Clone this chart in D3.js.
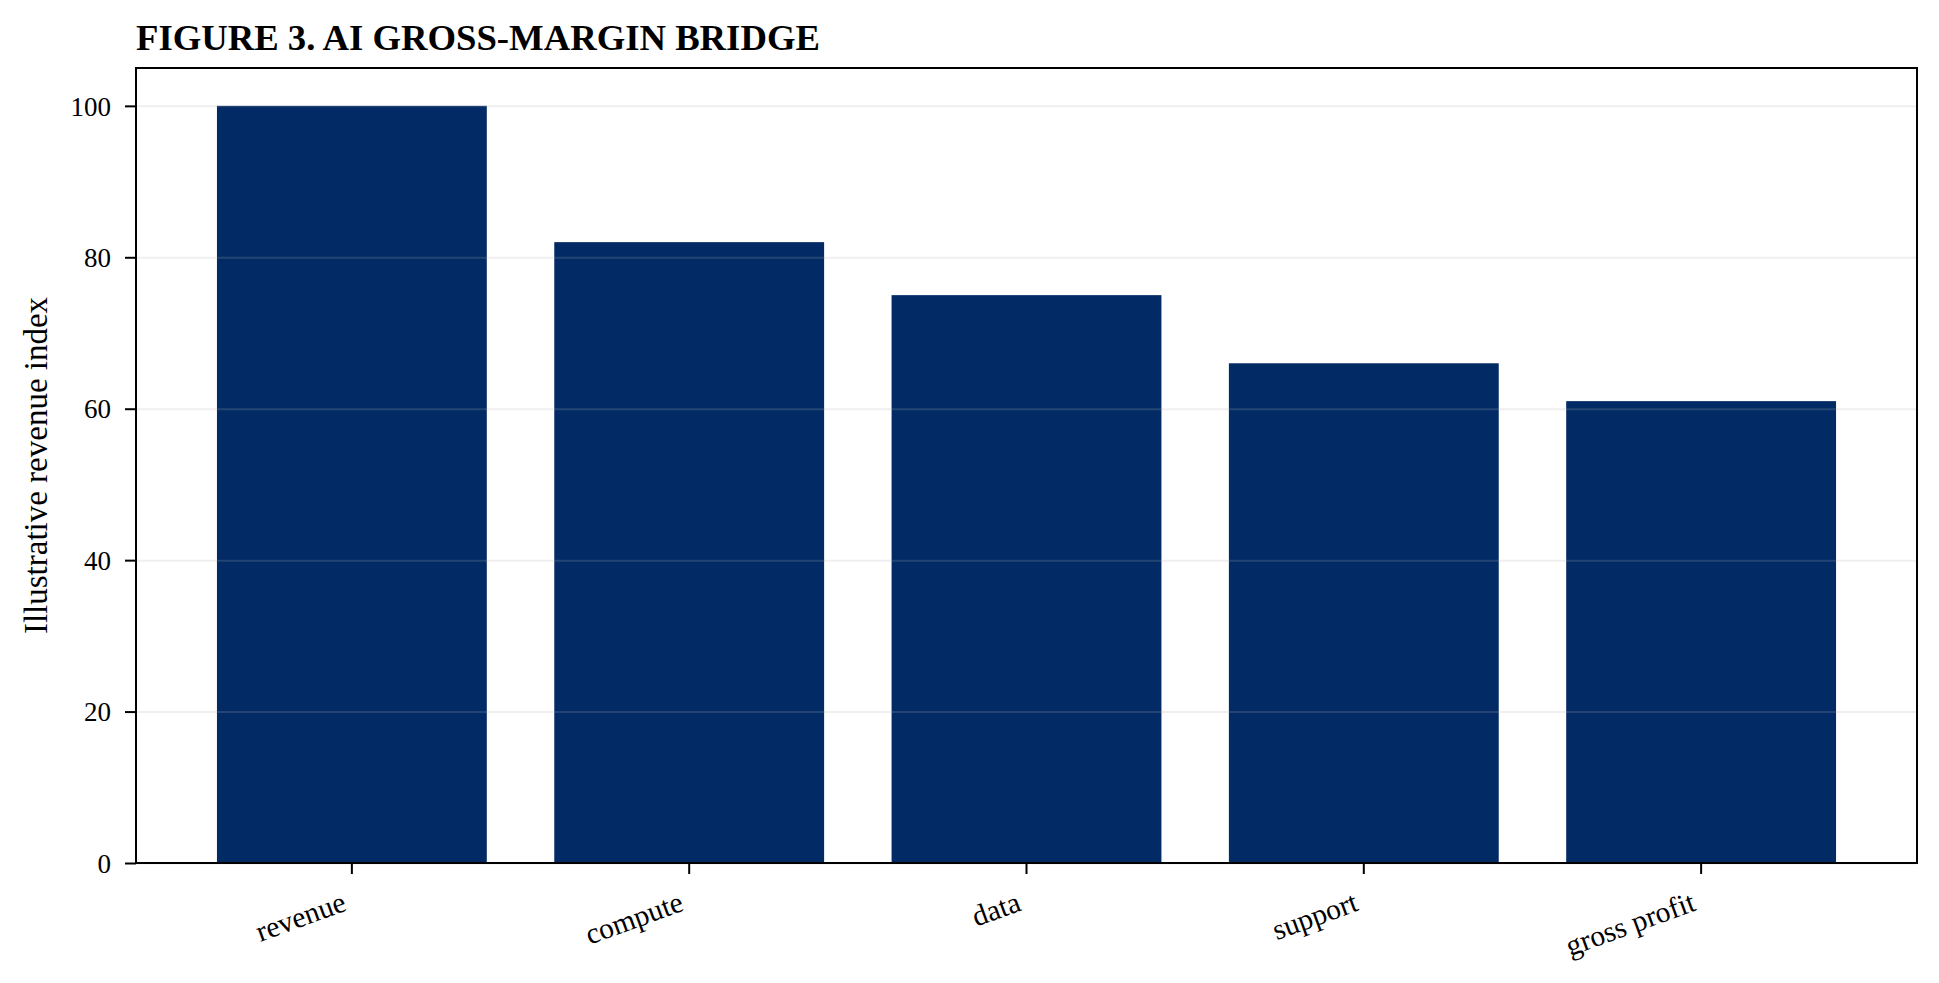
<!DOCTYPE html>
<html lang="en">
	<head>
		<meta charset="utf-8">
		<title>Figure 3: AI gross-margin bridge</title>
		<script type="text/javascript" src="https://d3js.org/d3.v7.min.js"></script>
		<style type="text/css">
			html, body {
				margin: 0;
				padding: 0;
				background: #ffffff;
			}
			svg text {
				font-family: "Liberation Serif", "Times New Roman", Times, serif;
				fill: #000;
			}
			.title {
				font-size: 36.7px;
				font-weight: bold;
			}
			.axis text {
				font-size: 27px;
			}
			.x-axis text {
				font-size: 29.5px;
			}
			.axis-title {
				font-size: 33px;
			}
			.bar {
				fill: #022b65;
			}
			.grid line {
				stroke: #b0b0b0;
				stroke-opacity: 0.2;
				stroke-width: 2;
			}
		</style>
	</head>
	<body>
		<div id="chart"></div>
		<script type="text/javascript">
			//Data
			const categories = ["revenue", "compute", "data", "support", "gross profit"];
			const values = [100, 82, 75, 66, 61];
			const yTicks = [0, 20, 40, 60, 80, 100];

			//Size and margin
			const W = 1939, H = 983;
			const margin = { top: 68, right: 22, bottom: 120, left: 136 };
			const width = W - margin.left - margin.right;
			const height = H - margin.top - margin.bottom;

			//Scales
			const xScale = d3.scaleBand()
							 .domain(categories)
							 .range([0, width])
							 .paddingInner(0.2)
							 .paddingOuter(0.24);
			const yScale = d3.scaleLinear()
							 .domain([0, 105])
							 .range([height, 0]);

			const svg = d3.select("#chart")
						  .append("svg")
						  .attr("width", W)
						  .attr("height", H);

			const g = svg.append("g")
						 .attr("transform", "translate(" + margin.left + "," + margin.top + ")");

			//Bars
			g.selectAll(".bar")
			  .data(categories)
			  .enter()
			  .append("rect")
			  .attr("class", "bar")
			  .attr("x", function(d) { return xScale(d); })
			  .attr("width", xScale.bandwidth())
			  .attr("y", function(d, i) { return yScale(values[i]); })
			  .attr("height", function(d, i) { return height - yScale(values[i]); });

			//Grid (drawn above bars, faint)
			g.append("g")
			  .attr("class", "grid")
			  .call(d3.axisLeft(yScale).tickValues(yTicks).tickSize(-width).tickFormat(""))
			  .call(function(s) { s.select(".domain").remove(); });

			//Axes
			const yAxis = d3.axisLeft(yScale)
							.tickValues(yTicks)
							.tickSize(11)
							.tickPadding(14)
							.tickFormat(d3.format("d"));
			const xAxis = d3.axisBottom(xScale)
							.tickSize(11)
							.tickSizeOuter(0);

			const gy = g.append("g")
						.attr("class", "axis")
						.call(yAxis);
			gy.select(".domain").remove();
			gy.selectAll(".tick line").attr("stroke", "#000").attr("stroke-width", 2);
			gy.selectAll(".tick text").attr("dy", "0.34em");

			const gx = g.append("g")
						.attr("class", "axis x-axis")
						.attr("transform", "translate(0," + height + ")")
						.call(xAxis);
			gx.select(".domain").remove();
			gx.selectAll(".tick line").attr("stroke", "#000").attr("stroke-width", 2);
			gx.selectAll(".tick text")
			  .attr("y", 0)
			  .attr("dy", 0)
			  .style("text-anchor", "end")
			  .attr("transform", "translate(-4,47) rotate(-20)");

			//Frame
			g.append("rect")
			  .attr("width", width)
			  .attr("height", height)
			  .attr("fill", "none")
			  .attr("stroke", "#000")
			  .attr("stroke-width", 2);

			//Axis title
			g.append("text")
			  .attr("class", "axis-title")
			  .attr("transform", "rotate(-90)")
			  .style("text-anchor", "middle")
			  .attr("x", -height / 2)
			  .attr("y", -89)
			  .text("Illustrative revenue index");

			//Title
			svg.append("text")
			  .attr("class", "title")
			  .attr("x", margin.left)
			  .attr("y", 50)
			  .text("FIGURE 3. AI GROSS-MARGIN BRIDGE");
		</script>
	</body>
</html>
